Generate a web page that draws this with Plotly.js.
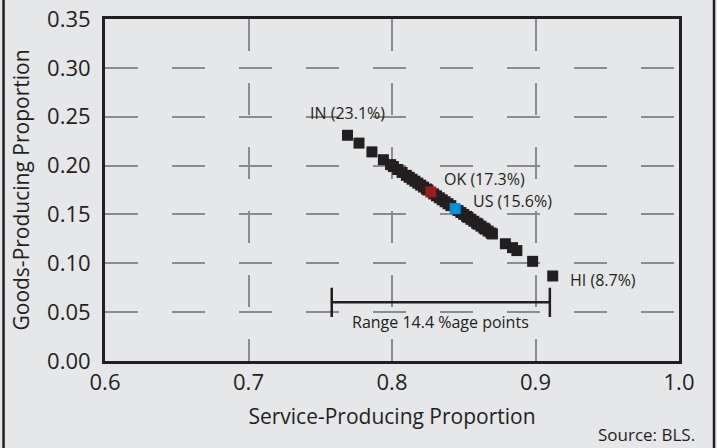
<!DOCTYPE html>
<html>
<head>
<meta charset="utf-8">
<script src="https://cdn.plot.ly/plotly-3.0.1.min.js"></script>
<style>
html,body{margin:0;padding:0;background:#e6e7e8;}
#chart{width:717px;height:448px;}
</style>
</head>
<body>
<div id="chart"></div>
<script>
// Goods-producing vs service-producing employment shares, by state
var stateService = [0.769,0.777,0.786,0.794,0.799,0.801,0.804,0.807,0.810,0.812,0.814,0.816,0.818,0.820,0.822,0.824,0.825,0.829,0.831,0.833,0.835,0.837,0.839,0.841,0.846,0.848,0.850,0.852,0.853,0.855,0.857,0.859,0.860,0.862,0.864,0.865,0.867,0.869,0.870,0.879,0.884,0.887,0.898,0.912];
var stateGoods   = [0.231,0.223,0.214,0.206,0.201,0.199,0.196,0.193,0.190,0.188,0.186,0.184,0.182,0.180,0.178,0.176,0.175,0.171,0.169,0.167,0.165,0.163,0.161,0.159,0.154,0.152,0.150,0.148,0.147,0.145,0.143,0.141,0.140,0.138,0.136,0.135,0.133,0.131,0.130,0.120,0.116,0.113,0.102,0.087];
var okService = [0.827], okGoods = [0.173];
var usService = [0.844], usGoods = [0.156];
var labelNames   = ["IN (23.1%)","OK (17.3%)","US (15.6%)","HI (8.7%)"];
var labelService = [0.769,0.827,0.844,0.912];
var labelGoods   = [0.231,0.173,0.156,0.087];
var rangeService = [0.758,0.910];
var rangeGoods = 0.060;
var rangeText = "Range 14.4 %age points";
var xTicks = [0.6,0.7,0.8,0.9,1.0];
var xTickText = ["0.6","0.7","0.8","0.9","1.0"];
var yTicks = [0,0.05,0.10,0.15,0.20,0.25,0.30,0.35];
var yTickText = ["0.00","0.05","0.10","0.15","0.20","0.25","0.30","0.35"];

var FONT = "Open Sans, DejaVu Sans, sans-serif";
var INK = "#231f20";

var traces = [
  {x: stateService, y: stateGoods, type: "scatter", mode: "markers",
   marker: {symbol: "square", size: 11, color: INK}, hoverinfo: "skip"},
  {x: okService, y: okGoods, type: "scatter", mode: "markers",
   marker: {symbol: "square", size: 11, color: "#9b1b1f"}, hoverinfo: "skip"},
  {x: usService, y: usGoods, type: "scatter", mode: "markers",
   marker: {symbol: "square", size: 11, color: "#0092d8"}, hoverinfo: "skip"}
];

var shifts = [[0,22,"center"],[11,13,"left"],[16,8,"left"],[15,-4,"left"]];
var annotations = labelNames.map(function(t,i){
  return {x: labelService[i], y: labelGoods[i], xref:"x", yref:"y", text: t,
    showarrow:false, xanchor: shifts[i][2], yanchor:"middle",
    xshift: shifts[i][0], yshift: shifts[i][1],
    font:{family:FONT, size:16, color:INK}};
});
annotations.push({x:(rangeService[0]+rangeService[1])/2, y:rangeGoods, xref:"x", yref:"y",
  text: rangeText, showarrow:false, xanchor:"center", yanchor:"middle", yshift:-20,
  font:{family:FONT, size:16, color:INK}});
annotations.push({x:1.031, y:-0.215, xref:"paper", yref:"paper", text:"Source: BLS.",
  showarrow:false, xanchor:"right", yanchor:"middle",
  font:{family:FONT, size:17, color:INK}});

var shapes = [
  {type:"line", xref:"x", yref:"y", x0:rangeService[0], x1:rangeService[1], y0:rangeGoods, y1:rangeGoods,
   line:{color:INK, width:2.5}},
  {type:"line", xref:"x", yref:"y", x0:rangeService[0], x1:rangeService[0], y0:rangeGoods-0.015, y1:rangeGoods+0.015,
   line:{color:INK, width:2.5}},
  {type:"line", xref:"x", yref:"y", x0:rangeService[1], x1:rangeService[1], y0:rangeGoods-0.015, y1:rangeGoods+0.015,
   line:{color:INK, width:2.5}},
  {type:"line", xref:"paper", yref:"paper", x0:-0.1768, x1:-0.1768, y0:-0.5, y1:1.5,
   line:{color:INK, width:2.5}},
  {type:"line", xref:"paper", yref:"paper", x0:1.061, x1:1.061, y0:-0.5, y1:1.5,
   line:{color:INK, width:2.5}}
];

var layout = {
  width:717, height:448,
  margin:{l:105, r:38, t:19, b:87, pad:0},
  paper_bgcolor:"#e6e7e8", plot_bgcolor:"#e6e7e8",
  showlegend:false,
  font:{family:FONT, color:INK},
  xaxis:{range:[0.6,1.0], tickvals:xTicks, ticktext:xTickText,
    showgrid:true, gridcolor:"#8c8c8c", gridwidth:2, griddash:"32px,32px",
    zeroline:false, showline:true, linecolor:INK, linewidth:3, mirror:true,
    ticks:"", tickfont:{family:FONT, size:22, color:INK},
    title:{text:"Service-Producing Proportion", font:{family:FONT, size:21, color:INK}, standoff:14},
    fixedrange:true},
  yaxis:{range:[0,0.35], tickvals:yTicks, ticktext:yTickText,
    showgrid:true, gridcolor:"#8c8c8c", gridwidth:2, griddash:"33px,34px",
    zeroline:false, showline:true, linecolor:INK, linewidth:3, mirror:true,
    ticks:"", ticklabelstandoff:7, tickfont:{family:FONT, size:22, color:INK},
    title:{text:"Goods-Producing Proportion", font:{family:FONT, size:21, color:INK}, standoff:12},
    fixedrange:true},
  annotations: annotations,
  shapes: shapes
};

Plotly.newPlot("chart", traces, layout, {displayModeBar:false, staticPlot:true});
</script>
</body>
</html>
